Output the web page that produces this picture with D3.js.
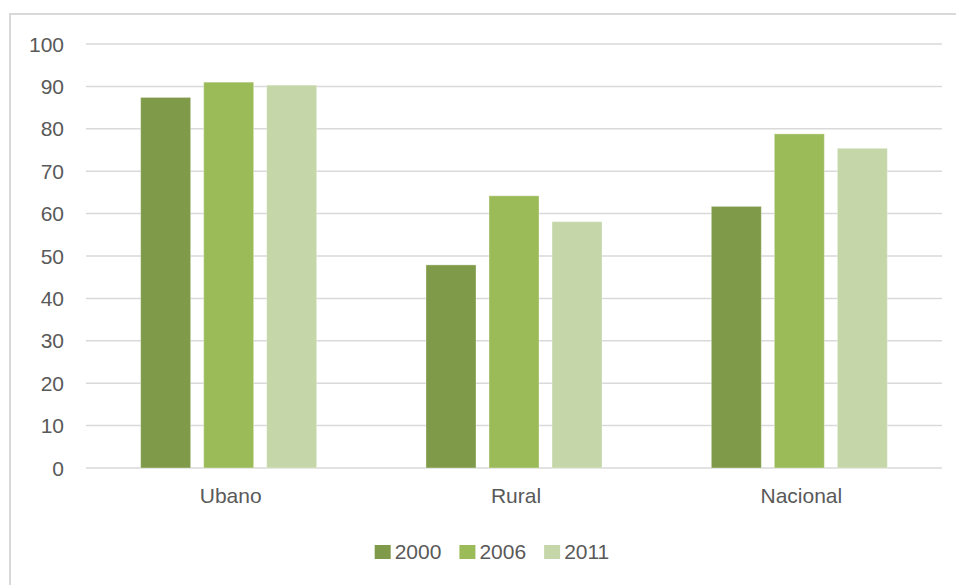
<!DOCTYPE html>
<html>
  <head>
    <meta charset="utf-8">
    <title>Chart</title>
    <style>
        body { margin: 0; background: #fff; }
        text { font-family: "Liberation Sans", Arial, sans-serif; fill: #595959; }
        .grid line { stroke: #d9d9d9; stroke-width: 1.5px; }
    </style>
  </head>
  <body>
    <div id="chart"></div>
    <script src="https://d3js.org/d3.v7.min.js"></script>
    <script>
        var categories = ["Ubano", "Rural", "Nacional"];
        var series = ["2000", "2006", "2011"];
        var values2000 = [87.4, 47.9, 61.7];
        var values2006 = [91.0, 64.2, 78.8];
        var values2011 = [90.3, 58.1, 75.4];
        var yTicks = [0, 10, 20, 30, 40, 50, 60, 70, 80, 90, 100];
        var colors = ["#7f9a48", "#9bbb59", "#c5d6a9"];

        var allValues = [values2000, values2006, values2011];

        var width = 956, height = 585;
        var margin = { top: 44, right: 14, bottom: 117, left: 86 };
        var plotW = width - margin.left - margin.right;
        var plotH = height - margin.top - margin.bottom;

        var svg = d3.select("#chart")
          .append("svg")
            .attr("width", width)
            .attr("height", height);

        // chart border
        svg.append("rect")
          .attr("x", 10).attr("y", 14)
          .attr("width", 970).attr("height", 600)
          .attr("fill", "none")
          .attr("stroke", "#d9d9d9")
          .attr("stroke-width", 2);

        var g = svg.append("g")
          .attr("transform", "translate(" + margin.left + "," + margin.top + ")");

        var y = d3.scaleLinear()
          .domain([0, 100])
          .range([plotH, 0]);

        var x0 = d3.scaleBand()
          .domain(categories)
          .range([0, plotW])
          .paddingInner(0.3375)
          .paddingOuter(0.3375 / 2);

        var x1 = d3.scaleBand()
          .domain(series)
          .range([0, x0.bandwidth()])
          .paddingInner(13 / 63)
          .paddingOuter(13 / 126);

        // gridlines
        g.append("g")
          .attr("class", "grid")
          .selectAll("line")
          .data(yTicks)
          .enter()
          .append("line")
            .attr("x1", 0)
            .attr("x2", plotW)
            .attr("y1", function(d) { return y(d); })
            .attr("y2", function(d) { return y(d); });

        // y tick labels
        g.append("g")
          .selectAll("text")
          .data(yTicks)
          .enter()
          .append("text")
            .attr("x", -22)
            .attr("y", function(d) { return y(d); })
            .attr("dy", "0.36em")
            .attr("text-anchor", "end")
            .style("font-size", "21px")
            .text(function(d) { return d; });

        // bars
        var groups = g.selectAll(".group")
          .data(categories)
          .enter()
          .append("g")
            .attr("class", "group")
            .attr("transform", function(d) { return "translate(" + x0(d) + ",0)"; });

        groups.selectAll("rect")
          .data(function(d, i) {
            return series.map(function(s, j) { return { key: s, idx: j, value: allValues[j][i] }; });
          })
          .enter()
          .append("rect")
            .attr("x", function(d) { return x1(d.key); })
            .attr("y", function(d) { return y(d.value); })
            .attr("width", x1.bandwidth())
            .attr("height", function(d) { return plotH - y(d.value); })
            .attr("fill", function(d) { return colors[d.idx]; })
            .attr("stroke", "#ffffff")
            .attr("stroke-opacity", 0.35)
            .attr("stroke-width", 1);

        // category labels
        g.append("g")
          .selectAll("text")
          .data(categories)
          .enter()
          .append("text")
            .attr("x", function(d) { return x0(d) + x0.bandwidth() / 2 + 2; })
            .attr("y", plotH + 35)
            .attr("text-anchor", "middle")
            .style("font-size", "21px")
            .text(function(d) { return d; });

        // legend
        var legend = svg.append("g");
        var lx = 0;
        series.forEach(function(s, i) {
          var item = legend.append("g").attr("transform", "translate(" + lx + ",0)");
          item.append("rect")
            .attr("x", 0).attr("y", -14)
            .attr("width", 16).attr("height", 14)
            .attr("fill", colors[i]);
          var t = item.append("text")
            .attr("x", 20).attr("y", 0)
            .style("font-size", "21px")
            .text(s);
          lx += 20 + t.node().getComputedTextLength() + 18;
        });
        var legendW = lx - 18;
        legend.attr("transform", "translate(" + (492 - legendW / 2) + ",559)");
    </script>
  </body>
</html>
